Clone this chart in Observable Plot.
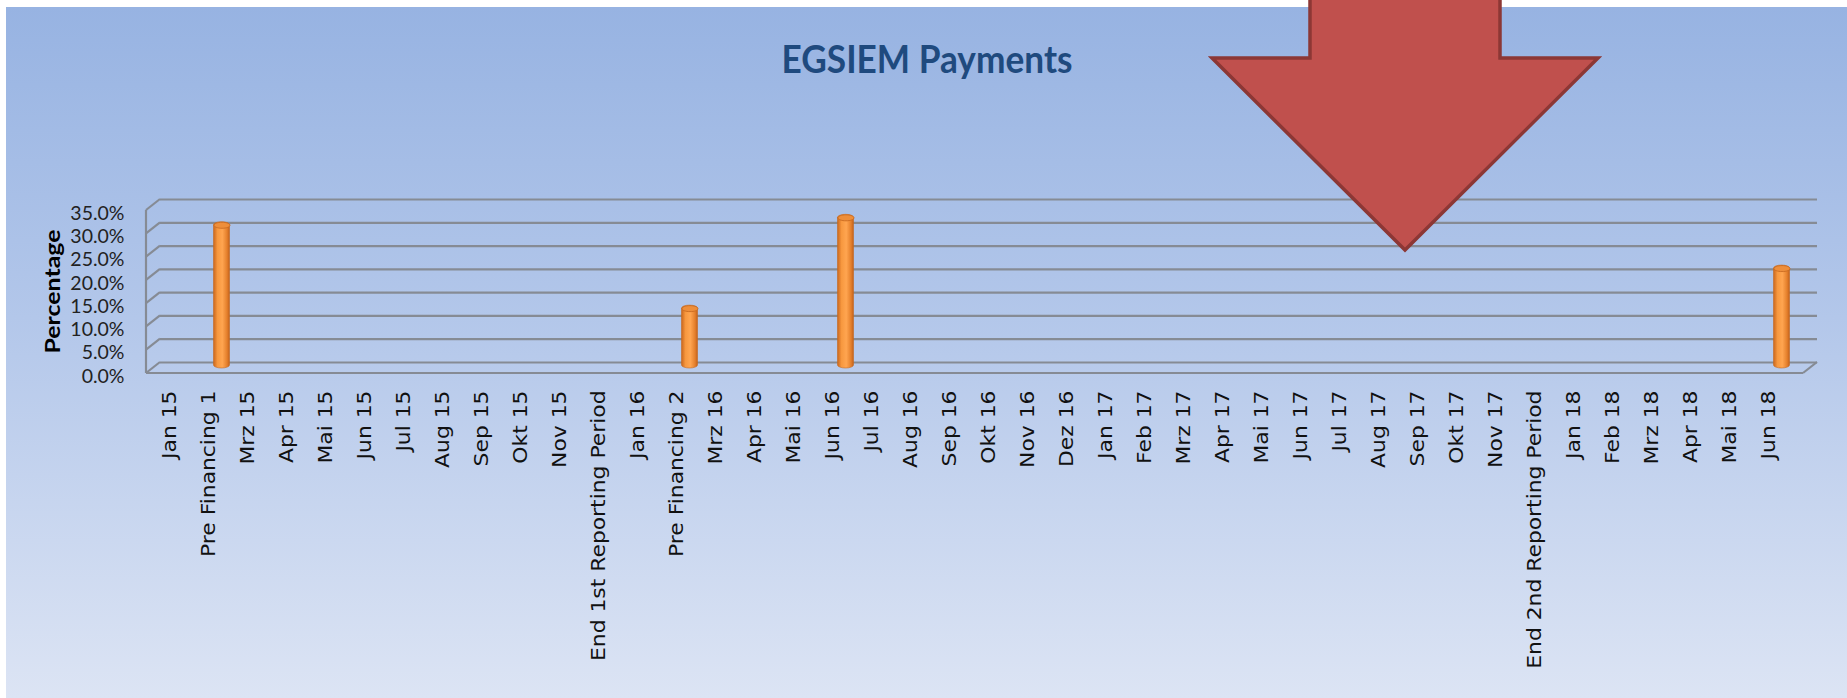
<!DOCTYPE html>
<html>
<head>
<meta charset="utf-8">
<script src="https://cdn.jsdelivr.net/npm/d3@7"></script>
<script src="https://cdn.jsdelivr.net/npm/@observablehq/plot@0.6"></script>
<style>
  html, body { margin: 0; padding: 0; background: #ffffff; }
  #bg { position: absolute; left: 6px; top: 7px; width: 1841px; height: 691px;
        background: linear-gradient(to bottom, #97b3e2 0%, #b3c7ea 45%, #dce4f4 100%); }
  #chart { position: absolute; left: 0; top: 0; }
</style>
</head>
<body>
<svg width="0" height="0" style="position:absolute">
  <defs>
    <linearGradient id="cyl" x1="0" x2="1" y1="0" y2="0">
      <stop offset="0%" stop-color="#c9661d"/>
      <stop offset="25%" stop-color="#f7983f"/>
      <stop offset="55%" stop-color="#ffa550"/>
      <stop offset="85%" stop-color="#e47f2b"/>
      <stop offset="100%" stop-color="#c0601c"/>
    </linearGradient>
  </defs>
</svg>
<div id="bg"></div>
<div id="chart"></div>
<script>
const categories = [
  "Jan 15", "Pre Financing 1", "Mrz 15", "Apr 15", "Mai 15", "Jun 15", "Jul 15", "Aug 15",
  "Sep 15", "Okt 15", "Nov 15", "End 1st Reporting Period", "Jan 16", "Pre Financing 2",
  "Mrz 16", "Apr 16", "Mai 16", "Jun 16", "Jul 16", "Aug 16", "Sep 16", "Okt 16", "Nov 16",
  "Dez 16", "Jan 17", "Feb 17", "Mrz 17", "Apr 17", "Mai 17", "Jun 17", "Jul 17", "Aug 17",
  "Sep 17", "Okt 17", "Nov 17", "End 2nd Reporting Period", "Jan 18", "Feb 18", "Mrz 18",
  "Apr 18", "Mai 18", "Jun 18"
];
const paymentCategories = ["Pre Financing 1", "Pre Financing 2", "Jun 16", "Jun 18"];
const paymentValues = [31.4, 13.5, 33.0, 22.1];
const yTicks = [0, 5, 10, 15, 20, 25, 30, 35];
const titleText = "EGSIEM Payments";
const yLabel = "Percentage";

const data = paymentCategories.map((c, i) => ({cat: c, value: paymentValues[i]}));

// elliptical cap for cylinder tops
const capSymbol = {
  draw(ctx) {
    const rx = 8, ry = 3, k = 0.5523;
    ctx.moveTo(rx, 0);
    ctx.bezierCurveTo(rx, ry * k, rx * k, ry, 0, ry);
    ctx.bezierCurveTo(-rx * k, ry, -rx, ry * k, -rx, 0);
    ctx.bezierCurveTo(-rx, -ry * k, -rx * k, -ry, 0, -ry);
    ctx.bezierCurveTo(rx * k, -ry, rx, -ry * k, rx, 0);
    ctx.closePath();
  }
};

const DX = 14, DY = -11;       // depth offset of the back wall
const gridColor = "#868b94";

const plot = Plot.plot({
  width: 1847,
  height: 698,
  marginLeft: 146,
  marginRight: 44,
  marginTop: 210,
  marginBottom: 325,
  style: {background: "transparent", overflow: "visible"},
  x: {type: "band", domain: categories, padding: 0, axis: null},
  y: {domain: [0, 35], axis: null},
  marks: [
    Plot.ruleY(yTicks, {stroke: gridColor, strokeWidth: 2.2, dx: DX, dy: DY}),
    Plot.barY(data, {
      x: "cat", y: "value", fill: "url(#cyl)", stroke: "#c8691f", strokeWidth: 0.6,
      insetLeft: 11.5, insetRight: 11.5, dx: 7, dy: -5, rx: 8, ry: 3
    }),
    Plot.dot(data, {
      x: "cat", y: "value", symbol: capSymbol, fill: "#ee8e3a", stroke: "#c4661e",
      strokeWidth: 0.8, dx: 7, dy: -2
    }),
    Plot.text(yTicks, {
      y: d => d, text: d => d.toFixed(1) + "%", frameAnchor: "left", textAnchor: "end",
      dx: -22, dy: 3, fontFamily: "Lato", fontSize: 19.5, fill: "#222222"
    }),
    Plot.text(categories, {
      x: d => d, text: d => d, frameAnchor: "bottom", rotate: -90, textAnchor: "end",
      dy: 17, fontFamily: "DejaVu Sans", fontSize: 19, fill: "#111111"
    })
  ]
});

document.getElementById("chart").appendChild(plot);

const svg = d3.select(plot);

// the reference's category labels are drawn slightly elongated along their length
svg.selectAll("text").each(function () {
  const t = this.getAttribute("transform");
  if (t && t.includes("rotate(-90)")) this.setAttribute("transform", t + " scale(1.15,1)");
});

// 3D frame (side wall & floor edges) from the plot's own scales
const ys = plot.scale("y");
const xs = plot.scale("x");
const x0 = Math.min(...xs.range), x1 = Math.max(...xs.range);
const y0 = ys.apply(0), yTop = ys.apply(d3.max(yTicks));
const frame = svg.insert("g", ":first-child")
  .attr("stroke", gridColor).attr("stroke-width", 2.2).attr("fill", "none");
frame.append("line").attr("x1", x0).attr("x2", x0).attr("y1", y0).attr("y2", yTop);
yTicks.forEach(t => {
  const yy = ys.apply(t);
  frame.append("line").attr("x1", x0).attr("y1", yy).attr("x2", x0 + DX).attr("y2", yy + DY);
});
frame.append("line").attr("x1", x0).attr("y1", y0).attr("x2", x1).attr("y2", y0);
frame.append("line").attr("x1", x1).attr("y1", y0).attr("x2", x1 + DX).attr("y2", y0 + DY);

// y axis label
svg.append("text")
  .attr("transform", `translate(53,${(y0 + yTop) / 2}) rotate(-90)`)
  .attr("text-anchor", "middle").attr("dy", "0.35em")
  .attr("font-family", "Lato").attr("font-weight", "bold").attr("font-size", 20)
  .attr("textLength", 124).attr("lengthAdjust", "spacingAndGlyphs")
  .attr("fill", "#000").text(yLabel);

// title
svg.append("text")
  .attr("x", 927).attr("y", 73).attr("text-anchor", "middle")
  .attr("font-family", "Lato").attr("font-weight", "bold").attr("font-size", 39)
  .attr("textLength", 291).attr("lengthAdjust", "spacingAndGlyphs")
  .attr("fill", "#1f4a7e").text(titleText);

// red down arrow annotation
svg.append("path")
  .attr("d", "M1310,-5 L1500,-5 L1500,58 L1598,58 L1405,250 L1212,58 L1310,58 Z")
  .attr("fill", "#c0504d").attr("stroke", "#8c3735").attr("stroke-width", 3.5)
  .attr("stroke-linejoin", "miter");
</script>
</body>
</html>
